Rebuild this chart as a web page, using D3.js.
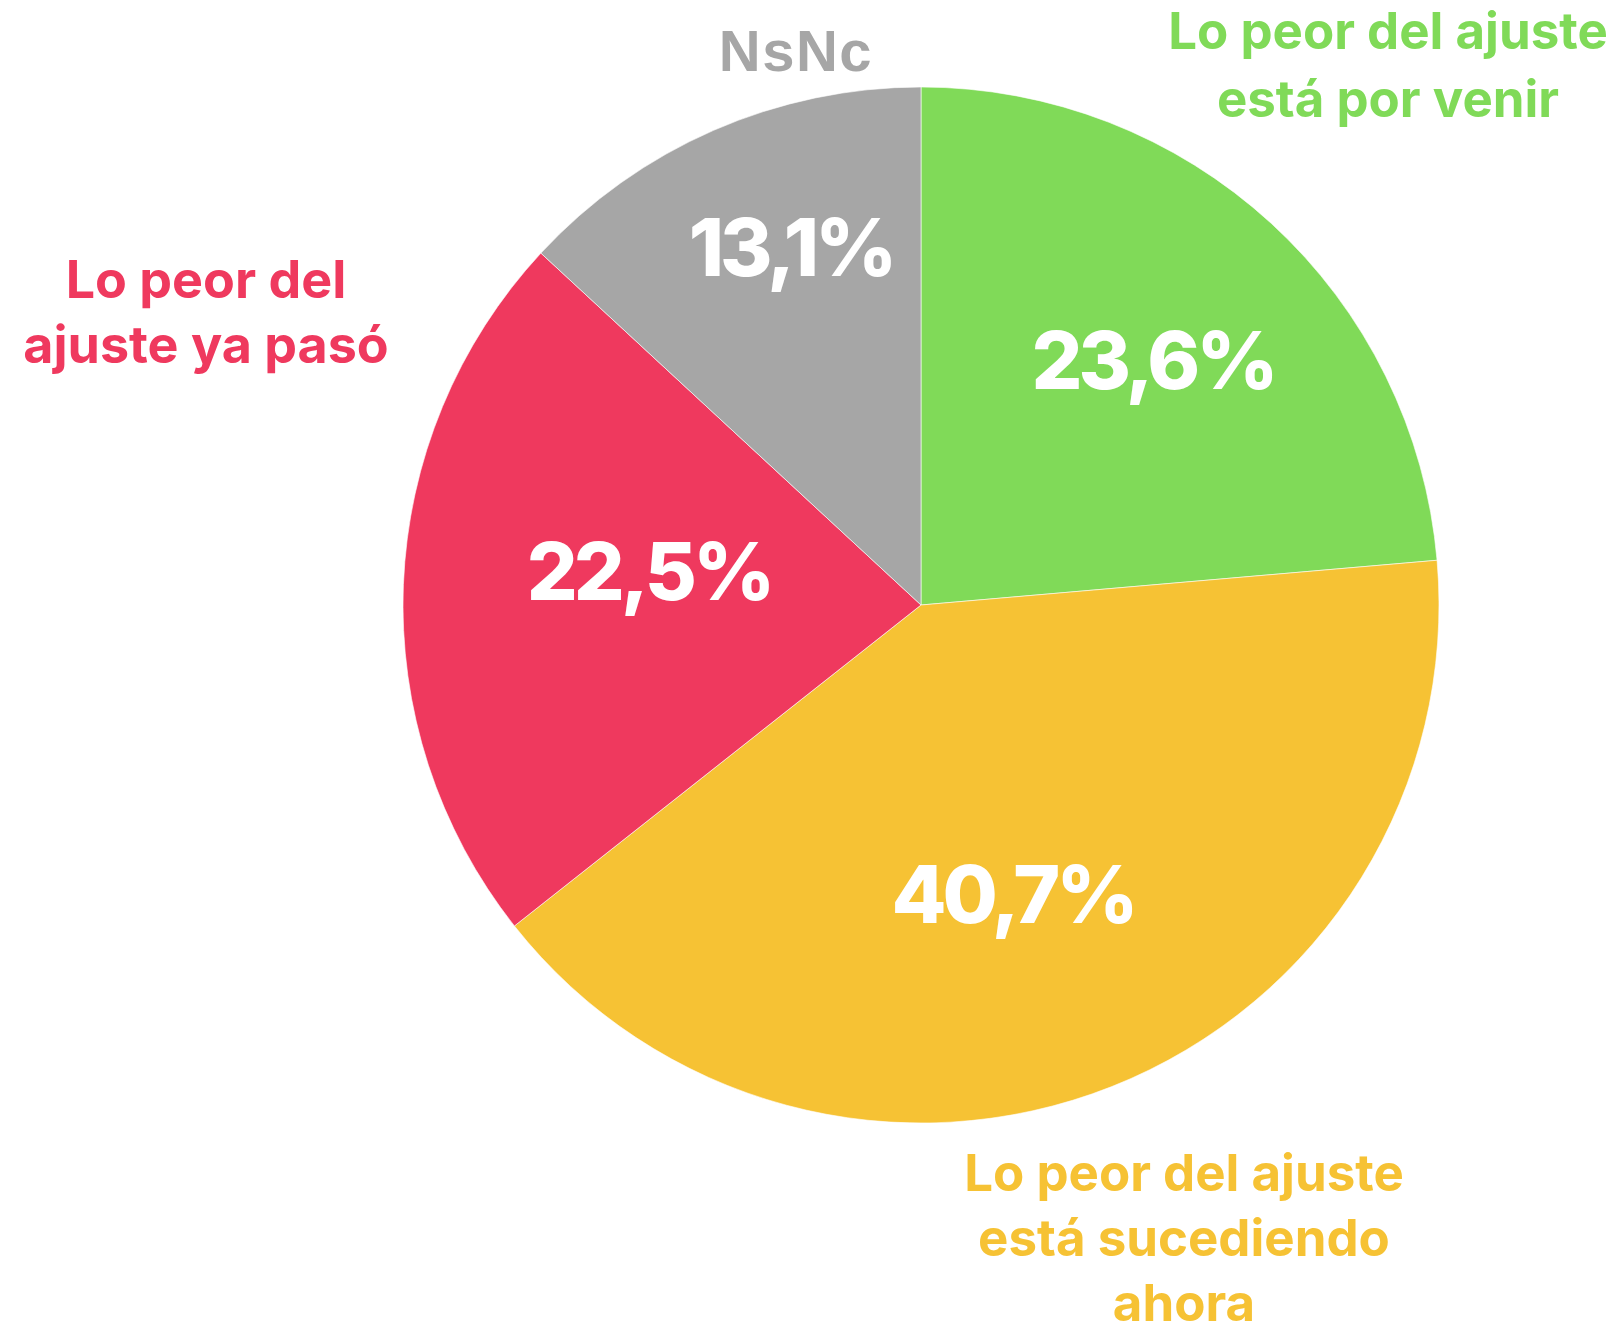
<!DOCTYPE html>
<html><head><meta charset="utf-8">
<script src="https://cdn.jsdelivr.net/npm/d3@7"></script>
<style>html,body{margin:0;padding:0;background:#fff;}svg{display:block;}</style>
</head><body>
<svg id="chart" width="1615" height="1331"></svg>
<script>
const categories = ["Lo peor del ajuste está por venir", "Lo peor del ajuste está sucediendo ahora", "Lo peor del ajuste ya pasó", "NsNc"];
const values = [23.6, 40.7, 22.5, 13.1];
const valueLabels = ["23,6%", "40,7%", "22,5%", "13,1%"];
const categoryLines = [["Lo peor del ajuste", "está por venir"], ["Lo peor del ajuste", "está sucediendo", "ahora"], ["Lo peor del", "ajuste ya pasó"], ["NsNc"]];
const colors = ["#80da58", "#f6c234", "#ef395e", "#a6a6a6"];

// layout (not data)
const W = 1615, H = 1331, cx = 921, cy = 605, R = 518;
const pctOffset = [[234, -216], [94, 318], [-270, -5], [-128, -329]];
const catPos = [{x: 1388, y: 49, lh: 68}, {x: 1184, y: 1191, lh: 65}, {x: 206, y: 298, lh: 65}, {x: 796, y: 71, lh: 0}];
const catFont = ['Inter', 'Inter', 'Inter', 'Liberation Sans'];
const catSize = [51, 51, 52, 58];
const catSpacing = [0, 0, 0, 1.5];

const svg = d3.select("#chart");
const g = svg.append("g").attr("transform", `translate(${cx},${cy})`);
const pie = d3.pie().sort(null).value(d => d);
const arcs = pie(values);
const arc = d3.arc().innerRadius(0).outerRadius(R);

g.selectAll("path").data(arcs).join("path")
  .attr("d", arc).attr("fill", (d, i) => colors[i])
  .attr("stroke", "#fff").attr("stroke-width", 0.6);

g.selectAll("text.pct").data(arcs).join("text").attr("class", "pct")
  .attr("x", (d, i) => pctOffset[i][0] - 2).attr("y", (d, i) => pctOffset[i][1])
  .attr("text-anchor", "middle")
  .attr("font-family", "Inter, sans-serif").attr("font-weight", 800)
  .attr("font-size", 80).attr("letter-spacing", -4).attr("fill", "#fff")
  .text((d, i) => valueLabels[i]);

categoryLines.forEach((lines, i) => {
  const t = svg.append("text")
    .attr("text-anchor", "middle")
    .attr("font-family", catFont[i] + ", sans-serif").attr("font-weight", 700)
    .attr("font-size", catSize[i]).attr("letter-spacing", catSpacing[i]).attr("fill", colors[i]);
  lines.forEach((ln, j) => {
    t.append("tspan").attr("x", catPos[i].x).attr("y", catPos[i].y + j * catPos[i].lh).text(ln);
  });
});
</script>
</body></html>
